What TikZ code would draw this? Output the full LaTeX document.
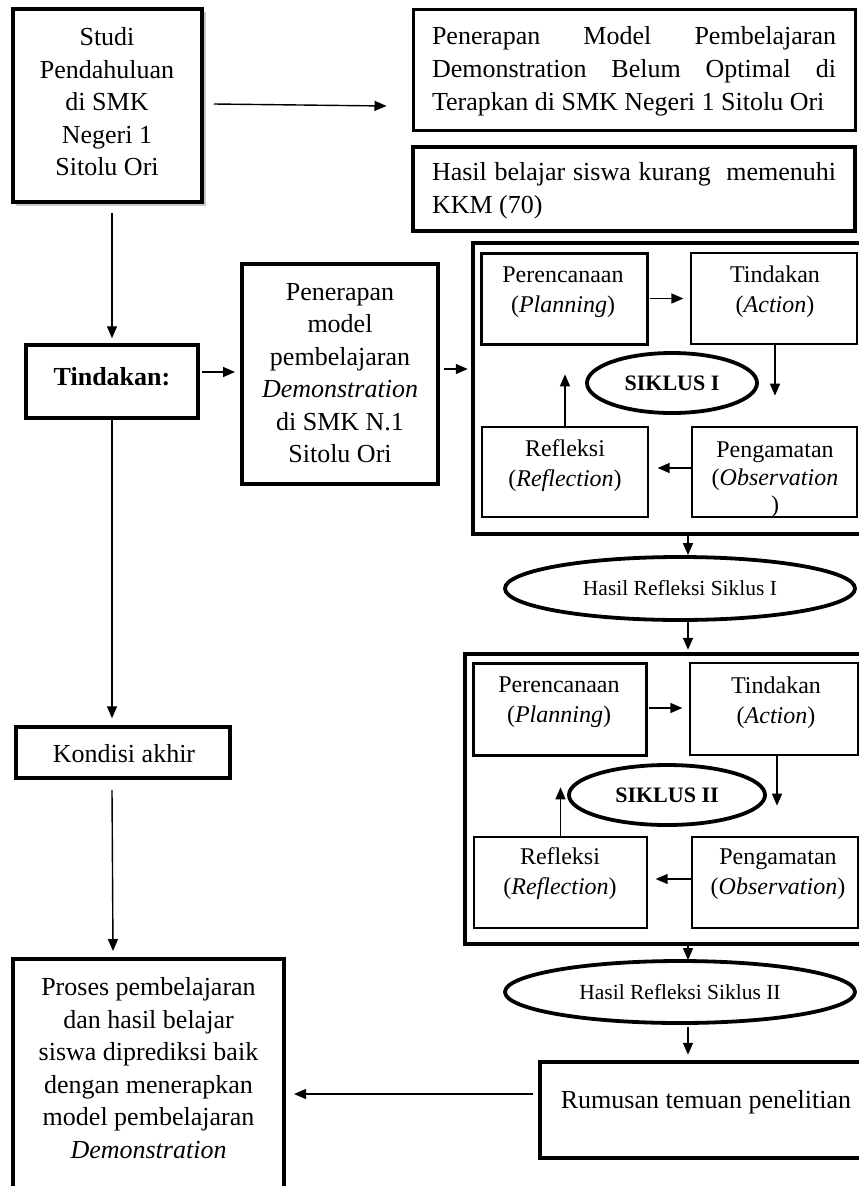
\documentclass[tikz,border=0pt]{standalone}
\usepackage{fontspec}
\setmainfont{Liberation Serif}
\usetikzlibrary{arrows.meta,shapes.geometric,calc}
\begin{document}
\begin{tikzpicture}[x=1pt,y=-1pt,
  boxthick/.style={draw, line width=3.5pt, inner sep=0pt, fill=white},
  boxthin/.style={draw, line width=1.3pt, inner sep=0pt},
  txt/.style={align=center, inner sep=0pt, font=\fontsize{26pt}{32.5pt}\selectfont},
  jtxt/.style={align=justify, inner sep=0pt, font=\fontsize{26pt}{33pt}\selectfont},
  stxt/.style={align=center, inner sep=0pt, font=\fontsize{24pt}{30pt}\selectfont},
  oval/.style={draw, ellipse, line width=3.8pt, inner sep=0pt},
  arr/.style={line width=1.4pt, -{Triangle[length=12pt,width=10pt]}}
]
\useasboundingbox (0,0) rectangle (859,1186);
\fill[white] (0,0) rectangle (859,1186);
\clip (0,0) rectangle (859,1186);

% shadow of first box
\fill[black!22] (16,12) rectangle (205.5,205.5);

% ---------- left column ----------
\node[boxthick, minimum width=189pt, minimum height=193pt] (studi) at (107.5,105.5) {};
\node[txt] (studit) at (107,102) {Studi\\Pendahuluan\\di SMK\\Negeri 1\\Sitolu Ori};

\node[boxthick, minimum width=172pt, minimum height=73pt] (tind) at (112,381.5) {};
\node[txt, font=\fontsize{26pt}{32.5pt}\selectfont\bfseries] (tindt) at (112,377) {Tindakan:};

\node[boxthick, minimum width=214pt, minimum height=51pt] (kondisi) at (123,752.5) {};
\node[txt] (kondisit) at (124,754) {Kondisi akhir};

\node[boxthick, line width=4pt, minimum width=271pt, minimum height=236pt] (final) at (148.5,1077) {};
\node[txt] (finalt) at (148.5,1068) {Proses pembelajaran\\dan hasil belajar\\siswa diprediksi baik\\dengan menerapkan\\model pembelajaran\\\textit{Demonstration}};

% ---------- top right ----------
\node[boxthick, line width=3pt, minimum width=442pt, minimum height=121pt] (box1) at (634,69.5) {};
\node[jtxt, text width=404pt] (box1t) at (634,71) {Penerapan Model Pembelajaran\linebreak Demonstration Belum Optimal di\linebreak Terapkan di SMK Negeri 1 Sitolu Ori};

\node[boxthick, line width=4.5pt, minimum width=442pt, minimum height=84pt] (box2) at (634,189) {};
\node[jtxt, text width=404pt] (box2t) at (634,191) {Hasil belajar siswa kurang\ \ memenuhi\linebreak KKM (70)};

% ---------- middle ----------
\node[boxthick, line width=4pt, minimum width=196pt, minimum height=220pt] (pmodel) at (340,374) {};
\node[txt] (pmodelt) at (340,373) {Penerapan\\model\\pembelajaran\\\textit{Demonstration}\\di SMK N.1\\Sitolu Ori};

% ---------- cycle I ----------
\node[draw, line width=4.5pt, inner sep=0pt, minimum width=393pt, minimum height=291pt] (cyc1) at (669.5,388.5) {};
\node[boxthick, line width=3pt, minimum width=166pt, minimum height=91pt] (plan1) at (564,298.5) {};
\node[stxt] (plan1t) at (563,292) {Perencanaan\\(\textit{Planning})};
\node[boxthin, minimum width=166pt, minimum height=91pt] (act1) at (774,298.5) {};
\node[stxt] (act1t) at (775,292) {Tindakan\\(\textit{Action})};
\node[boxthin, minimum width=165pt, minimum height=90pt] (obs1) at (774.5,472) {};
\node[stxt, font=\fontsize{24pt}{27.5pt}\selectfont] (obs1t) at (775,480) {Pengamatan\\(\textit{Observation}\\)};
\node[boxthin, minimum width=166pt, minimum height=90pt] (ref1) at (565,472) {};
\node[stxt] (ref1t) at (565,466) {Refleksi\\(\textit{Reflection})};
\node[oval, minimum width=170pt, minimum height=60pt, font=\fontsize{22pt}{26pt}\selectfont\bfseries] (sik1) at (672,383) {SIKLUS I};

\node[oval, minimum width=350pt, minimum height=63pt, font=\fontsize{21.5pt}{26pt}\selectfont] (hasil1) at (680,588.5) {Hasil Refleksi Siklus I};

% ---------- cycle II ----------
\node[draw, line width=4.5pt, inner sep=0pt, minimum width=401pt, minimum height=290pt] (cyc2) at (665.5,799) {};
\node[boxthick, line width=3pt, minimum width=173pt, minimum height=92pt] (plan2) at (559.5,709) {};
\node[stxt] (plan2t) at (559,702.5) {Perencanaan\\(\textit{Planning})};
\node[boxthin, minimum width=168pt, minimum height=92pt] (act2) at (774,709) {};
\node[stxt] (act2t) at (776,702.5) {Tindakan\\(\textit{Action})};
\node[boxthin, minimum width=166pt, minimum height=91pt] (obs2) at (775,882.5) {};
\node[stxt] (obs2t) at (778,874) {Pengamatan\\(\textit{Observation})};
\node[boxthin, minimum width=173pt, minimum height=91pt] (ref2) at (560.5,882.5) {};
\node[stxt] (ref2t) at (560,874) {Refleksi\\(\textit{Reflection})};
\node[oval, minimum width=196pt, minimum height=60pt, font=\fontsize{22pt}{26pt}\selectfont\bfseries] (sik2) at (667,795) {SIKLUS II};

\node[oval, minimum width=350pt, minimum height=62pt, font=\fontsize{21.5pt}{26pt}\selectfont] (hasil2) at (680,992) {Hasil Refleksi Siklus II};

\node[boxthick, line width=4.5pt, minimum width=335pt, minimum height=96pt] (rumusan) at (707.5,1110) {};
\node[txt] (rumusant) at (706,1102) {Rumusan temuan penelitian};

% ---------- connectors ----------
\draw[arr] ($(studi.east)+(10,-1.5)$) -- ($(box1.west |- studi.east)+(-25,0.5)$);
\draw[arr] ($(tind.north |- studi.south)+(0,9)$) -- ($(tind.north)+(0,-5)$);
\draw[arr] (tind.south) -- ($(tind.south |- kondisi.north)+(0,-7)$);
\draw[arr] ($(kondisi.south -| tind.south)+(0,10)$) -- ($(final.north -| tind.south)+(1,-6)$);
\draw[arr] ($(tind.east |- pmodel.west)+(2,-2)$) -- ($(pmodel.west)+(-5,-2)$);
\draw[arr] ($(pmodel.east)+(4,-5)$) -- ($(cyc1.west |- pmodel.east)+(-3,-5)$);

\draw[arr] ($(plan1.east)+(1,0)$) -- ($(act1.west)+(-7,0)$);
\draw[arr] ($(act1.south)+(1,0)$) -- ($(act1.south)+(1,51)$);
\draw[arr] ($(obs1.west)+(0,-4)$) -- ($(ref1.east)+(9,-4)$);
\draw[arr] (ref1.north) -- ($(ref1.north)+(0,-52)$);

\draw[arr] ($(hasil1.north |- cyc1.south)+(8,0)$) -- ($(hasil1.north)+(8,0)$);
\draw[arr] ($(hasil1.south)+(8,0)$) -- ($(cyc2.north -| hasil1.south)+(8,-2)$);

\draw[arr] ($(plan2.east)+(1,-1)$) -- ($(act2.west)+(-7,-1)$);
\draw[arr] ($(act2.south)+(3,0)$) -- ($(act2.south)+(3,50)$);
\draw[arr] ($(obs2.west)+(0,-3.5)$) -- ($(ref2.east)+(8,-3.5)$);
\draw[arr] (ref2.north) -- ($(ref2.north)+(0,-49)$);

\draw[arr] ($(hasil2.north |- cyc2.south)+(8,0)$) -- ($(hasil2.north)+(8,1)$);
\draw[arr] ($(hasil2.south)+(8,2)$) -- ($(rumusan.north -| hasil2.south)+(8,-5)$);
\draw[arr] ($(rumusan.west)+(-5,-16)$) -- ($(final.east |- rumusan.west)+(8,-16)$);
\end{tikzpicture}
\end{document}
